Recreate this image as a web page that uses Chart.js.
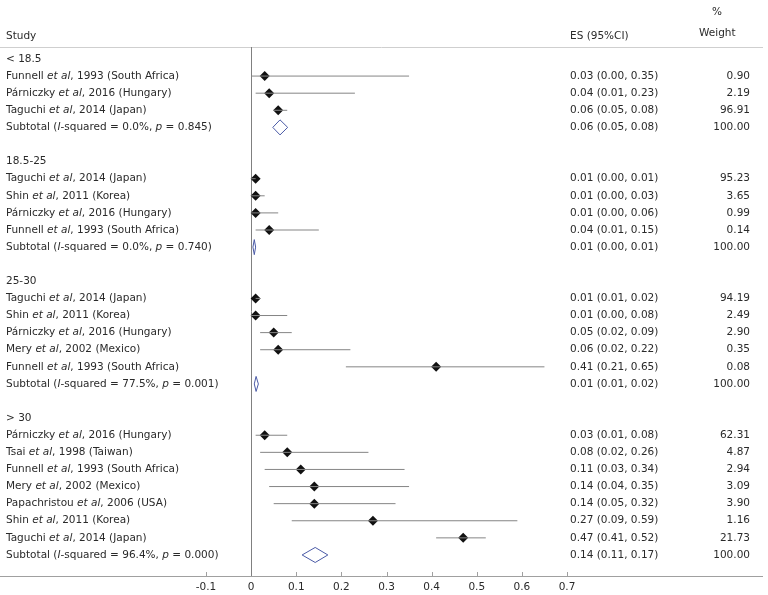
<!DOCTYPE html>
<html>
<head>
<meta charset="utf-8">
<script src="https://cdn.jsdelivr.net/npm/chart.js@4/dist/chart.umd.min.js"></script>
<style>
html, body { margin: 0; padding: 0; background: #fff; }
#wrap { width: 768px; height: 595px; }
</style>
</head>
<body>
<div id="wrap"><canvas id="forestChart"></canvas></div>
<script>
var groupNames = ['< 18.5', '18.5-25', '25-30', '> 30'];
var studyGroup = [0, 0, 0, 1, 1, 1, 1, 2, 2, 2, 2, 2, 3, 3, 3, 3, 3, 3, 3];
var studyAuthor = ['Funnell', 'Párniczky', 'Taguchi',
    'Taguchi', 'Shin', 'Párniczky', 'Funnell',
    'Taguchi', 'Shin', 'Párniczky', 'Mery', 'Funnell',
    'Párniczky', 'Tsai', 'Funnell', 'Mery', 'Papachristou', 'Shin', 'Taguchi'];
var studyInfo = [', 1993 (South Africa)', ', 2016 (Hungary)', ', 2014 (Japan)',
    ', 2014 (Japan)', ', 2011 (Korea)', ', 2016 (Hungary)', ', 1993 (South Africa)',
    ', 2014 (Japan)', ', 2011 (Korea)', ', 2016 (Hungary)', ', 2002 (Mexico)', ', 1993 (South Africa)',
    ', 2016 (Hungary)', ', 1998 (Taiwan)', ', 1993 (South Africa)', ', 2002 (Mexico)', ', 2006 (USA)', ', 2011 (Korea)', ', 2014 (Japan)'];
var studyEs = [0.03, 0.04, 0.06, 0.01, 0.01, 0.01, 0.04, 0.01, 0.01, 0.05, 0.06, 0.41, 0.03, 0.08, 0.11, 0.14, 0.14, 0.27, 0.47];
var studyLo = [0.00, 0.01, 0.05, 0.00, 0.00, 0.00, 0.01, 0.01, 0.00, 0.02, 0.02, 0.21, 0.01, 0.02, 0.03, 0.04, 0.05, 0.09, 0.41];
var studyHi = [0.35, 0.23, 0.08, 0.01, 0.03, 0.06, 0.15, 0.02, 0.08, 0.09, 0.22, 0.65, 0.08, 0.26, 0.34, 0.35, 0.32, 0.59, 0.52];
var studyWeight = ['0.90', '2.19', '96.91', '95.23', '3.65', '0.99', '0.14', '94.19', '2.49', '2.90', '0.35', '0.08',
    '62.31', '4.87', '2.94', '3.09', '3.90', '1.16', '21.73'];
// subtotals read a bit finer off the diamonds (they round to the printed values)
var subEs = [0.064, 0.007, 0.011, 0.142];
var subLo = [0.048, 0.004, 0.007, 0.113];
var subHi = [0.081, 0.010, 0.016, 0.170];
var subI2 = ['0.0%', '0.0%', '77.5%', '96.4%'];
var subP = ['0.845', '0.740', '0.001', '0.000'];
var xTicks = [-0.1, 0, 0.1, 0.2, 0.3, 0.4, 0.5, 0.6, 0.7];

var FONT = '"DejaVu Sans", sans-serif';
var FS = 10.5;

// lay out rows: group header, studies, subtotal, blank
var rows = [];
var r = 0;
groupNames.forEach(function (g, gi) {
    rows.push({ kind: 'head', row: r++, g: gi });
    studyGroup.forEach(function (sg, si) {
        if (sg === gi) rows.push({ kind: 'study', row: r++, i: si });
    });
    rows.push({ kind: 'sub', row: r++, g: gi });
    r++;
});
var lastRow = r - 2;

var ciData = [], pointData = [], diamondData = [];
rows.forEach(function (row) {
    if (row.kind === 'study') {
        ciData.push({ x: studyLo[row.i], y: row.row }, { x: studyHi[row.i], y: row.row }, { x: studyHi[row.i], y: null });
        pointData.push({ x: studyEs[row.i], y: row.row });
    } else if (row.kind === 'sub') {
        var h = 0.44, g = row.g;
        diamondData.push({ x: subLo[g], y: row.row }, { x: subEs[g], y: row.row - h }, { x: subHi[g], y: row.row },
            { x: subEs[g], y: row.row + h }, { x: subLo[g], y: row.row }, { x: subLo[g], y: null });
    }
});

function drawParts(ctx, parts, x, y) {
    parts.forEach(function (p) {
        ctx.font = (p[1] ? 'italic ' : '') + FS + 'px ' + FONT;
        ctx.fillText(p[0], x, y);
        x += ctx.measureText(p[0]).width;
    });
}

var forestText = {
    id: 'forestText',
    beforeDatasetsDraw: function (chart) {
        var ctx = chart.ctx, a = chart.chartArea, xs = chart.scales.x;
        ctx.save();
        ctx.lineWidth = 1;
        ctx.strokeStyle = '#cfcfcf';
        ctx.beginPath();
        ctx.moveTo(0, a.top + 0.5); ctx.lineTo(763, a.top + 0.5);
        ctx.stroke();
        ctx.strokeStyle = '#a0a0a0';
        ctx.beginPath();
        ctx.moveTo(0, a.bottom + 0.5); ctx.lineTo(763, a.bottom + 0.5);
        xTicks.forEach(function (t) {
            var px = Math.round(xs.getPixelForValue(t)) + 0.5;
            ctx.moveTo(px, a.bottom - 4); ctx.lineTo(px, a.bottom);
        });
        ctx.stroke();
        var x0 = Math.round(xs.getPixelForValue(0)) + 0.5;
        ctx.strokeStyle = '#808080';
        ctx.beginPath();
        ctx.moveTo(x0, a.top); ctx.lineTo(x0, a.bottom);
        ctx.stroke();
        ctx.restore();
    },
    afterDraw: function (chart) {
        var ctx = chart.ctx, a = chart.chartArea, ys = chart.scales.y;
        ctx.save();
        ctx.fillStyle = '#2a2a2a';
        ctx.textBaseline = 'middle';
        ctx.textAlign = 'left';
        ctx.font = FS + 'px ' + FONT;
        ctx.fillText('Study', 6, a.top - 11);
        ctx.fillText('ES (95%CI)', 570, a.top - 11);
        ctx.fillText('%', 712, a.top - 35);
        ctx.fillText('Weight', 699, a.top - 14);
        rows.forEach(function (row) {
            var y = ys.getPixelForValue(row.row);
            var es, lo, hi, w;
            ctx.textAlign = 'left';
            if (row.kind === 'head') {
                drawParts(ctx, [[groupNames[row.g], false]], 6, y);
                return;
            }
            if (row.kind === 'study') {
                drawParts(ctx, [[studyAuthor[row.i] + ' ', false], ['et al', true], [studyInfo[row.i], false]], 6, y);
                es = studyEs[row.i]; lo = studyLo[row.i]; hi = studyHi[row.i]; w = studyWeight[row.i];
            } else {
                drawParts(ctx, [['Subtotal (', false], ['I', true], ['-squared = ' + subI2[row.g] + ', ', false],
                    ['p', true], [' = ' + subP[row.g] + ')', false]], 6, y);
                es = subEs[row.g]; lo = subLo[row.g]; hi = subHi[row.g]; w = '100.00';
            }
            ctx.font = FS + 'px ' + FONT;
            ctx.fillText(es.toFixed(2) + ' (' + lo.toFixed(2) + ', ' + hi.toFixed(2) + ')', 570, y);
            ctx.textAlign = 'right';
            ctx.fillText(w, 750, y);
        });
        ctx.restore();
    }
};

var ctx = document.getElementById('forestChart').getContext('2d');
var chart = new Chart(ctx, {
    type: 'line',
    data: {
        datasets: [{
            data: ciData,
            borderColor: '#858585',
            borderWidth: 1,
            pointRadius: 0,
            spanGaps: false,
            tension: 0
        }, {
            data: pointData,
            showLine: false,
            pointStyle: 'rectRot',
            pointRadius: 5,
            pointBackgroundColor: '#111',
            pointBorderColor: '#111',
            pointBorderWidth: 0
        }, {
            data: diamondData,
            borderColor: '#4a5aa6',
            borderWidth: 1,
            pointRadius: 0,
            spanGaps: false,
            tension: 0
        }]
    },
    options: {
        responsive: true,
        maintainAspectRatio: false,
        animation: false,
        layout: { padding: { left: 206, right: 201, top: 47, bottom: 0 } },
        plugins: { legend: { display: false }, tooltip: { enabled: false } },
        scales: {
            x: {
                type: 'linear',
                min: -0.1,
                max: 0.7,
                grid: { display: false, drawTicks: false },
                border: { display: false },
                afterBuildTicks: function (s) { s.ticks = xTicks.map(function (v) { return { value: v }; }); },
                ticks: {
                    padding: 5,
                    color: '#2a2a2a',
                    font: { family: FONT, size: FS },
                    callback: function (v) { return String(Math.round(v * 10) / 10); }
                },
                afterFit: function (s) { s.height = 19; }
            },
            y: {
                type: 'linear',
                display: false,
                reverse: true,
                min: -0.7,
                max: lastRow + 1.23
            }
        }
    },
    plugins: [forestText]
});
</script>
</body>
</html>
